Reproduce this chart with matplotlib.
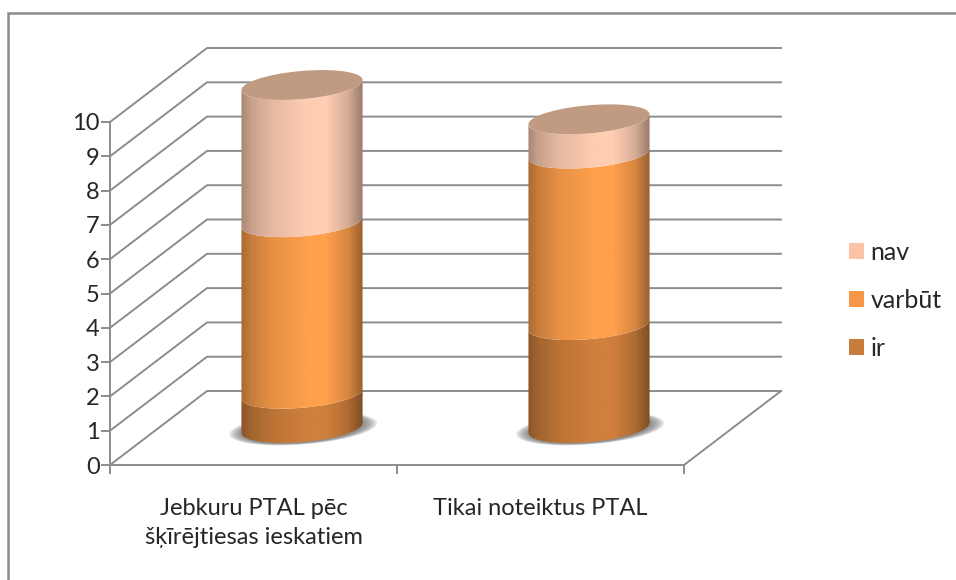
"""
Stacked cylinder chart on a 3D-looking wall and floor.
"""

import matplotlib
matplotlib.use("Agg")
import matplotlib.pyplot as plt
import numpy as np
from matplotlib.lines import Line2D
from matplotlib.patches import Patch, Polygon

plt.rcParams['font.family'] = ['Lato', 'Noto Sans', 'DejaVu Sans']

# .. data ..
categories = ["Jebkuru PTAL pēc\nšķīrējtiesas ieskatiem", "Tikai noteiktus PTAL"]
series_names = ["ir", "varbūt", "nav"]
ir = [1, 3]
varbut = [5, 5]
nav = [4, 1]
y_ticks = list(range(11))

# .. colours ..
colors = {"ir": "#d0803c", "varbūt": "#ffa04c", "nav": "#ffcdb2"}
legend_colors = {"ir": "#c77c3b", "varbūt": "#f79646", "nav": "#fac3a8"}
top_color = "#c19a82"
grid_color = "#8c8c8c"
text_color = "#262626"

# .. depth of the fake 3D box and cylinder shape, in data units ..
depth_x, depth_y = 0.338, 2.157
radius = 0.211
ell_b, ell_shear = 0.41, 0.146

W, H = 956, 580
fig = plt.figure(figsize=(W / 100, H / 100), dpi=100)

# only the top and left edges of the outer frame are in view
fig.add_artist(Line2D([8 / W, 8 / W, 1], [0, 1 - 12.5 / H, 1 - 12.5 / H],
                      color=grid_color, lw=1.8, solid_joinstyle="miter"))

ax = fig.add_axes([110 / W, (H - 465) / H, 574 / W, 343 / H])
ax.patch.set_alpha(0)


def ellipse_xy(cx, cy, t):
    return (cx + radius * np.cos(t),
            cy + ell_b * np.sin(t) + ell_shear * np.cos(t))


def shade(color):
    # horizontal light profile across the cylinder
    u = np.linspace(0, 1, 200)
    s = np.interp(u, [0, 0.08, 0.25, 0.55, 0.7, 0.88, 1.0],
                  [0.66, 0.78, 0.9, 1.0, 1.0, 0.84, 0.6])
    rgb = np.array(matplotlib.colors.to_rgb(color))
    return s[None, :, None] * rgb


def draw_segment(cx, y0, y1, color, z):
    # side of the cylinder between two stack levels
    t = np.linspace(np.pi, 2 * np.pi, 80)
    xa, ya = ellipse_xy(cx, y0, t)
    xb, yb = ellipse_xy(cx, y1, t[::-1])
    verts = np.column_stack([np.r_[xa, xb], np.r_[ya, yb]])
    clip = Polygon(verts, transform=ax.transData, fc="none", ec="none", clip_on=False)
    ax.add_patch(clip)
    im = ax.imshow(shade(color), extent=[cx - radius, cx + radius, y0 - 1, y1 + 1],
                   aspect="auto", zorder=z, interpolation="bilinear")
    im.set_clip_box(fig.bbox)
    im.set_clip_path(clip)


# .. wall and floor lines ..
for v in y_ticks:
    ax.plot([0, depth_x, 2 + depth_x], [v, v + depth_y, v + depth_y],
            color=grid_color, lw=1.4, clip_on=False, zorder=1)
ax.plot([2, 2 + depth_x], [0, depth_y], color=grid_color, lw=1.4, clip_on=False, zorder=1)

# .. cylinders ..
t_full = np.linspace(0, 2 * np.pi, 120)
for i in range(len(categories)):
    cx = i + 0.5 + depth_x / 2
    base = depth_y / 2

    # soft shadow under the base
    for k in np.linspace(1.22, 1.0, 8):
        sx, sy = ellipse_xy(0, 0, t_full)
        ax.fill(cx + 0.004 + sx * k, base - 0.02 + sy * (k * 0.5 + 0.5),
                color="#6e6e6e", alpha=0.16, lw=0, zorder=2, clip_on=False)

    level = 0
    for name, vals in zip(series_names, [ir, varbut, nav]):
        draw_segment(cx, base + level, base + level + vals[i], colors[name], 3)
        level += vals[i]

    tx, ty = ellipse_xy(cx, base + level, t_full)
    ax.fill(tx, ty, color=top_color, lw=0, zorder=4, clip_on=False)

ax.set_xlim(0, 2)
ax.set_ylim(0, 10)

# .. axes, ticks and labels ..
for side in ["top", "right"]:
    ax.spines[side].set_visible(False)
for side in ["left", "bottom"]:
    ax.spines[side].set_color(grid_color)
    ax.spines[side].set_linewidth(1.4)
ax.set_yticks(y_ticks)
ax.set_xticks([0, 1, 2])
ax.set_xticklabels([])
ax.set_xticks([0.5, 1.5], labels=categories, minor=True)
ax.tick_params(axis="both", which="major", color=grid_color, width=1.4, length=6.5,
               labelsize=17, labelcolor=text_color, pad=1)
ax.tick_params(axis="x", which="minor", length=0, labelsize=17,
               labelcolor=text_color, pad=24)
for lab in ax.get_xticklabels(minor=True):
    lab.set_linespacing(1.45)

handles = [Patch(fc=legend_colors[n], ec="none", label=n) for n in series_names[::-1]]
ax.legend(handles=handles, loc="center left", frameon=False,
          bbox_to_anchor=(849 / W, (H - 300) / H), bbox_transform=fig.transFigure,
          fontsize=18, labelcolor=text_color, labelspacing=1.0,
          handlelength=0.6, handleheight=0.6, handletextpad=0.25, borderpad=0, borderaxespad=0)

fig.savefig("out.png", dpi=100)
